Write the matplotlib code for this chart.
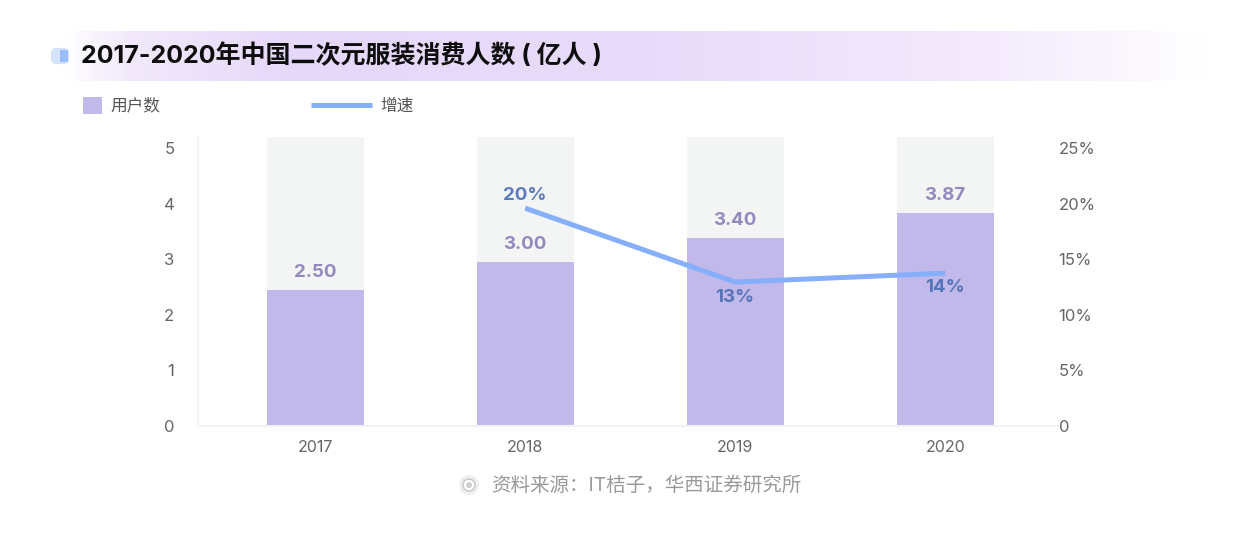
import numpy as np
import matplotlib.pyplot as plt
from matplotlib.colors import LinearSegmentedColormap
from matplotlib.patches import Circle, FancyBboxPatch, Rectangle

plt.rcParams["font.family"] = ["Inter", "Noto Sans CJK SC", "DejaVu Sans"]

# Data
years = ["2017", "2018", "2019", "2020"]
users = [2.45, 2.95, 3.38, 3.83]
user_labels = ["2.50", "3.00", "3.40", "3.87"]
growth_years = [1, 2, 3]
growth = [19.6, 12.95, 13.75]
growth_labels = ["20%", "13%", "14%"]
left_ticks = [0, 1, 2, 3, 4, 5]
right_ticks = [0, 5, 10, 15, 20, 25]
right_tick_labels = ["0", "5%", "10%", "15%", "20%", "25%"]

# Colours
BAR_COLOR = "#c1b9ea"
BACK_COLOR = "#f3f4f4"
LINE_COLOR = "#85aefb"
BAR_TEXT = "#8a7db8"
LINE_TEXT = "#4a6db5"
TICK_TEXT = "#666666"

W, H = 1238, 536
fig = plt.figure(figsize=(W / 100, H / 100), dpi=100, facecolor="white")


def px_rect(x0, y0, x1, y1):
    """Pixel box (y from the top) to figure fractions."""
    return [x0 / W, 1 - y1 / H, (x1 - x0) / W, (y1 - y0) / H]


# Overlay in pixel coordinates for the header decoration and legend
bg = fig.add_axes([0, 0, 1, 1], zorder=0)
bg.set_xlim(0, W)
bg.set_ylim(H, 0)
bg.axis("off")

band = LinearSegmentedColormap.from_list(
    "band",
    [(0, "#ffffff"), (0.06, "#f1e9fb"), (0.2, "#e6d8f9"), (0.5, "#e8dbfa"),
     (0.8, "#f3eafc"), (1, "#ffffff")],
)
bg.imshow(np.linspace(0, 1, 512).reshape(1, -1), cmap=band, aspect="auto",
          extent=[60, 1212, 81, 31], zorder=1)
bg.set_xlim(0, W)
bg.set_ylim(H, 0)

bg.add_patch(FancyBboxPatch((53, 50), 14, 12, boxstyle="round,pad=0,rounding_size=3",
                            fc="#d5e3fd", ec="#d5e3fd", lw=3, zorder=2))
bg.add_patch(Rectangle((60, 50), 8, 12, fc="#9abdfb", ec="none", zorder=3))
bg.text(81, 56, "2017-2020年中国二次元服装消费人数 ( 亿人 )", fontsize=18, fontweight="bold",
        color="#0d0d0d", va="center", ha="left", zorder=4)

# Legend
bg.add_patch(Rectangle((83, 97), 19, 17, fc=BAR_COLOR, ec="none"))
bg.text(110, 105.5, "用户数", fontsize=12, color="#555555", va="center", ha="left")
bg.plot([311, 372], [105, 105], color=LINE_COLOR, lw=3.6, solid_capstyle="butt")
bg.text(380, 105.5, "增速", fontsize=12, color="#555555", va="center", ha="left")

# Source line
bg.add_patch(Circle((469, 485), 10, fc="#efefef", ec="none"))
bg.add_patch(Circle((469, 485), 6, fc="#ffffff", ec="#c4c4c4", lw=1))
bg.add_patch(Circle((469, 485), 3, fc="#cfcfcf", ec="none"))
bg.text(491, 485.5, "资料来源：IT桔子，华西证券研究所", fontsize=14, color="#999999",
        va="center", ha="left")

# Main chart
ax = fig.add_axes(px_rect(198, 137, 1060, 426), zorder=1)
ax.patch.set_alpha(0)
x = np.arange(len(years))
y_top = 5.2
ax.bar(x, [y_top] * len(years), width=0.462, color=BACK_COLOR, zorder=1)
ax.bar(x, users, width=0.462, color=BAR_COLOR, zorder=2)
ax.set_xlim(-0.558, 3.547)
ax.set_ylim(0, y_top)
ax.set_xticks(x, years)
ax.set_yticks(left_ticks)
ax.tick_params(axis="both", length=0, colors=TICK_TEXT, labelsize=11.5)
ax.tick_params(axis="x", pad=10)
ax.tick_params(axis="y", pad=17, labelsize=12)
for name in ["top", "right"]:
    ax.spines[name].set_visible(False)
for name in ["left", "bottom"]:
    ax.spines[name].set_color("#f2f2f5")
    ax.spines[name].set_linewidth(1.5)

for i, val in enumerate(users):
    ax.text(i, val + 0.32, user_labels[i], ha="center", va="center", fontsize=13.5,
            fontweight="bold", color=BAR_TEXT, alpha=0.9, zorder=5)

ax2 = ax.twinx()
ax2.patch.set_alpha(0)
ax2.plot(growth_years, growth, color=LINE_COLOR, lw=3.6, solid_joinstyle="miter",
         solid_capstyle="butt", zorder=4)
ax2.set_ylim(0, y_top * 5)
ax2.set_yticks(right_ticks, right_tick_labels)
ax2.tick_params(axis="y", length=0, colors=TICK_TEXT, labelsize=12, pad=-1)
for name in ["top", "right", "left", "bottom"]:
    ax2.spines[name].set_visible(False)

label_offsets = [1.17, -1.35, -1.26]
for xi, val, lab, off in zip(growth_years, growth, growth_labels, label_offsets):
    ax2.text(xi, val + off, lab, ha="center", va="center", fontsize=13.5, fontweight="bold",
             color=LINE_TEXT, alpha=0.9, zorder=6)

fig.savefig("out.png", dpi=100)
plt.close(fig)
